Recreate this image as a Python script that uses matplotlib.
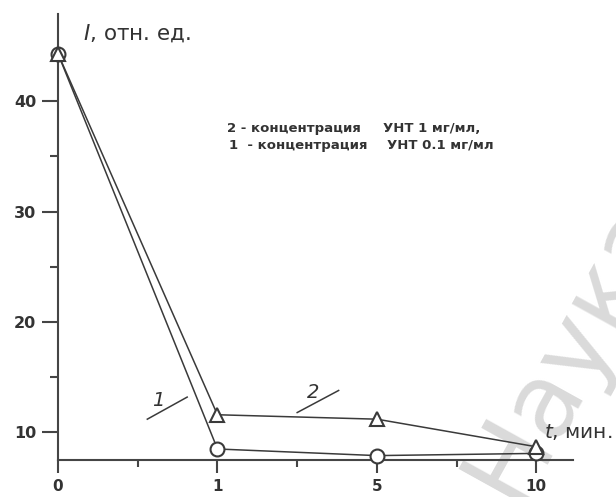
import matplotlib
matplotlib.use("Agg")
import matplotlib.pyplot as plt
import numpy as np

# ── data ────────────────────────────────────────────────────────
time_labels = ["0", "1", "5", "10"]
series_1 = [44.3, 8.5, 7.9, 8.1]    # УНТ 0.1 мг/мл, circles
series_2 = [44.3, 11.6, 11.2, 8.7]  # УНТ 1 мг/мл, triangles
y_major = [10, 20, 30, 40]
y_minor = [15, 25, 35]

plt.rcParams["font.family"] = ["DejaVu Sans"]
plt.rcParams["mathtext.fontset"] = "dejavusans"

LINE = "#3a3a3a"
AXIS = "#454545"
TEXT = "#333333"

fig = plt.figure(figsize=(6.16, 4.97), dpi=100)
ax = fig.add_axes([0.0942, 0.0744, 0.836, 0.8974])
ax.set_zorder(1)
ax.patch.set_visible(False)

x = np.arange(len(time_labels))

ax.plot(x, series_1, color=LINE, lw=1.1, marker="o", ms=10, mfc="white",
        mec=LINE, mew=1.5, clip_on=False, zorder=3)
ax.plot(x, series_2, color=LINE, lw=1.1, marker="^", ms=10, mfc="white",
        mec=LINE, mew=1.5, clip_on=False, zorder=3)

ax.set_xlim(0, 3.23)
ax.set_ylim(7.5, 47.9)

for side in ("top", "right"):
    ax.spines[side].set_visible(False)
for side in ("left", "bottom"):
    ax.spines[side].set_color(AXIS)
    ax.spines[side].set_linewidth(1.5)

ax.set_xticks(x)
ax.set_xticklabels(time_labels)
ax.set_xticks([0.5, 1.5, 2.5], minor=True)
ax.set_yticks(y_major)
ax.set_yticks(y_minor, minor=True)

ax.tick_params(axis="x", which="major", length=9, width=1.5, color=AXIS,
               pad=5, labelsize=11)
ax.tick_params(axis="x", which="minor", length=5, width=1.5, color=AXIS)
ax.tick_params(axis="y", which="major", length=11.5, width=1.5, color=AXIS,
               pad=4, labelsize=11.5)
ax.tick_params(axis="y", which="minor", length=6, width=1.5, color=AXIS)
for lbl in ax.get_xticklabels() + ax.get_yticklabels():
    lbl.set_fontweight("bold")
    lbl.set_color(TEXT)

# axis captions
ax.text(0.157, 46.2, "$I$, отн. ед.", fontsize=15.5, color=TEXT,
        va="center", ha="left", clip_on=False)
ax.text(3.045, 10.0, "$t$, мин.", fontsize=14.5, color=TEXT,
        va="center", ha="left", clip_on=False)

# legend text
leg_kw = dict(fontsize=9.5, fontweight="bold", color=TEXT, va="center",
              ha="left")
ax.text(1.061, 37.56, "2 - концентрация", **leg_kw)
ax.text(2.040, 37.56, "УНТ 1 мг/мл,", **leg_kw)
ax.text(1.073, 36.02, "1  - концентрация", **leg_kw)
ax.text(2.065, 36.02, "УНТ 0.1 мг/мл", **leg_kw)

# curve numbers with leader strokes
ax.text(0.63, 12.9, "1", fontsize=14, style="italic", color=TEXT,
        ha="center", va="center")
ax.plot([0.56, 0.81], [11.2, 13.2], color=LINE, lw=1.1)
ax.text(1.60, 13.6, "2", fontsize=14, style="italic", color=TEXT,
        ha="center", va="center")
ax.plot([1.50, 1.76], [11.8, 13.8], color=LINE, lw=1.1)

# background stamp
fig.text(516 / 616, 1 - 505 / 497, "Наука", fontsize=74, color="#dadada",
         rotation=61, rotation_mode="anchor", ha="left", va="baseline",
         zorder=0)

fig.savefig("out.png", dpi=100, facecolor="white")
